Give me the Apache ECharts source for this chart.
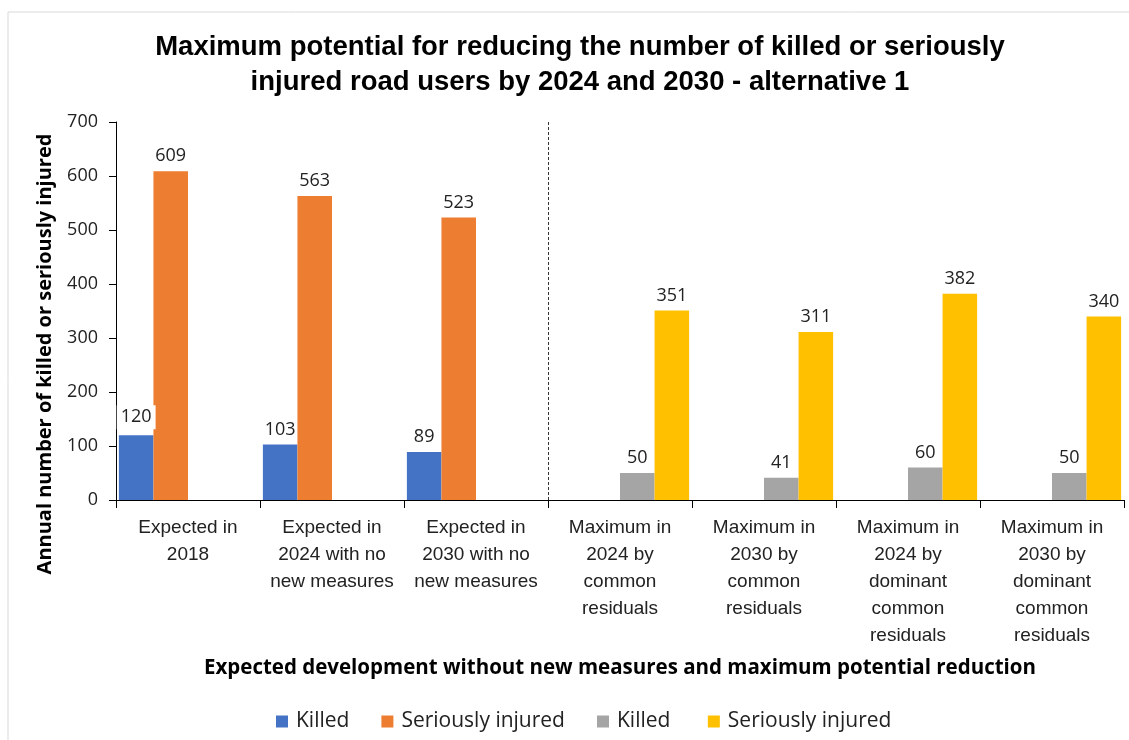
<!DOCTYPE html>
<html>
<head>
<meta charset="utf-8">
<script src="https://cdn.jsdelivr.net/npm/echarts@6/dist/echarts.min.js"></script>
<style>
html,body{margin:0;padding:0;background:#fff;}
#chart{width:1129px;height:740px;}
</style>
</head>
<body>
<div id="chart"></div>
<script>
var categories = [
  "Expected in\n2018",
  "Expected in\n2024 with no\nnew measures",
  "Expected in\n2030 with no\nnew measures",
  "Maximum in\n2024 by\ncommon\nresiduals",
  "Maximum in\n2030 by\ncommon\nresiduals",
  "Maximum in\n2024 by\ndominant\ncommon\nresiduals",
  "Maximum in\n2030 by\ndominant\ncommon\nresiduals"
];
var killedExpected = [120, 103, 89, null, null, null, null];
var injuredExpected = [609, 563, 523, null, null, null, null];
var killedMaximum = [null, null, null, 50, 41, 60, 50];
var injuredMaximum = [null, null, null, 351, 311, 382, 340];
var yTicks = [0, 100, 200, 300, 400, 500, 600, 700];
var dividerAfter = 3; // dashed separator after the third category

var narrow = '"Liberation Sans Narrow", "Arial Narrow", "Liberation Sans", sans-serif';
var sans = '"Open Sans", "Noto Sans", sans-serif';

var chart = echarts.init(document.getElementById('chart'), null, {renderer: 'canvas'});

function labelCfg() {
  return {
    show: true,
    position: 'top',
    distance: 6,
    fontFamily: sans,
    fontSize: 18,
    color: '#222'
  };
}

var killedData = killedExpected.map(function (v, i) {
  if (i === 0) {
    return {value: v, label: {backgroundColor: '#fff', padding: [3, 4, 3, 4]}};
  }
  return v;
});

chart.setOption({
  animation: false,
  backgroundColor: '#fff',
  title: {
    text: 'Maximum potential for reducing the number of killed or seriously\ninjured road users by 2024 and 2030 - alternative 1',
    left: 575,
    textAlign: 'center',
    top: 25,
    textStyle: {
      fontFamily: narrow,
      fontWeight: 'bold',
      fontSize: 27.5,
      lineHeight: 35,
      color: '#000'
    }
  },
  graphic: [
    {
      type: 'rect',
      shape: {x: 8, y: 12, width: 1130, height: 740},
      style: {fill: 'none', stroke: '#d9d9d9', lineWidth: 1},
      silent: true
    },
    {
      type: 'text',
      x: 45,
      y: 354,
      rotation: Math.PI / 2,
      style: {
        text: 'Annual number of killed or seriously injured',
        fontFamily: sans,
        fontWeight: 'bold',
        fontSize: 20,
        fill: '#000',
        align: 'center',
        verticalAlign: 'middle'
      }
    }
  ],
  legend: {
    left: 271,
    top: 706,
    itemWidth: 12,
    itemHeight: 12,
    itemGap: 32,
    icon: 'rect',
    textStyle: {fontFamily: sans, fontSize: 21, color: '#222', padding: [0, 0, 0, 3]},
    data: ['Killed', 'Seriously injured', 'Killed ', 'Seriously injured ']
  },
  grid: {left: 116, right: 5, top: 122, bottom: 240, containLabel: false},
  xAxis: [
    {
      type: 'category',
      data: categories,
      boundaryGap: true,
      name: 'Expected development without new measures and maximum potential reduction',
      nameLocation: 'middle',
      nameGap: 158,
      nameTextStyle: {fontFamily: sans, fontWeight: 'bold', fontSize: 20.5, color: '#000'},
      axisLine: {show: true, lineStyle: {color: '#000', width: 1}},
      axisTick: {show: true, length: 8, alignWithLabel: false, lineStyle: {color: '#000'}},
      axisLabel: {
        interval: 0,
        margin: 14,
        fontFamily: narrow,
        fontSize: 19,
        lineHeight: 27,
        color: '#222',
        verticalAlign: 'top'
      },
      splitLine: {show: false}
    },
    {
      type: 'value',
      show: false,
      min: 0,
      max: categories.length
    }
  ],
  yAxis: {
    type: 'value',
    min: 0,
    max: 700,
    interval: 100,
    axisLine: {show: true, lineStyle: {color: '#000', width: 1}},
    axisTick: {show: true, length: 7, lineStyle: {color: '#000'}},
    axisLabel: {
      margin: 18,
      fontFamily: sans,
      fontSize: 18,
      color: '#222',
      formatter: function (v) { return yTicks.indexOf(v) >= 0 ? String(v) : ''; }
    },
    splitLine: {show: false}
  },
  series: [
    {
      name: 'Killed',
      type: 'bar',
      data: killedData,
      barGap: '0%',
      barCategoryGap: '4%',
      itemStyle: {color: '#4472C4'},
      label: labelCfg()
    },
    {
      name: 'Seriously injured',
      type: 'bar',
      data: injuredExpected,
      itemStyle: {color: '#ED7D31'},
      label: labelCfg()
    },
    {
      name: 'Killed ',
      type: 'bar',
      data: killedMaximum,
      itemStyle: {color: '#A5A5A5'},
      label: labelCfg()
    },
    {
      name: 'Seriously injured ',
      type: 'bar',
      data: injuredMaximum,
      itemStyle: {color: '#FFC000'},
      label: labelCfg()
    },
    {
      name: 'divider',
      type: 'line',
      xAxisIndex: 1,
      data: [],
      silent: true,
      markLine: {
        silent: true,
        symbol: ['none', 'none'],
        label: {show: false},
        lineStyle: {color: '#333', type: [3, 2], width: 1},
        data: [{xAxis: dividerAfter}]
      }
    }
  ]
});
</script>
</body>
</html>
